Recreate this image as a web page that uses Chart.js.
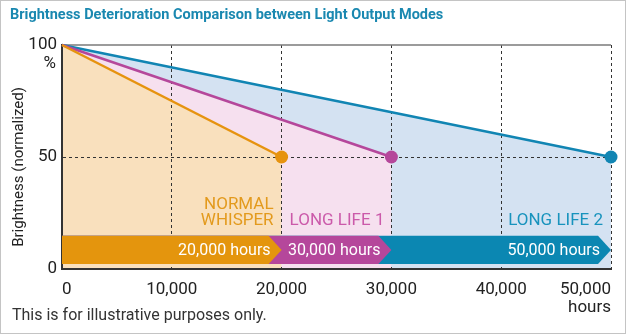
<!DOCTYPE html>
<html>
<head>
<meta charset="utf-8">
<script src="https://cdn.jsdelivr.net/npm/chart.js@4.4.1/dist/chart.umd.min.js"></script>
<style>
  html, body { margin: 0; padding: 0; background: #fff; }
  #wrap { width: 627px; height: 335px; }
</style>
</head>
<body>
<div id="wrap"><canvas id="lifeChart" width="627" height="335"></canvas></div>
<script>
// Brightness over operating hours for each light output mode
const modeNames = ['NORMAL\nWHISPER', 'LONG LIFE 1', 'LONG LIFE 2'];
const lifetimeHours = [20000, 30000, 50000];
const startBrightness = [100, 100, 100];
const endBrightness = [50, 50, 50];
const bandLabels = ['20,000 hours', '30,000 hours', '50,000 hours'];

const xTickValues = [0, 10000, 20000, 30000, 40000, 50000];
const xTickLabels = ['0', '10,000', '20,000', '30,000', '40,000', '50,000'];
const xUnit = 'hours';
const yTickValues = [0, 50, 100];
const yTickLabels = ['0', '50', '100'];
const yUnit = '%';

// band across the bottom of the plot (in brightness units)
const bandBottom = 2.2;
const bandTop = 14.8;

const lineColors = ['#e6930f', '#b5479b', '#1185b3'];
const fillColors = ['#f9e0bd', '#f6e0ef', '#d4e2f2'];
const bandColors = ['#e4950d', '#b5479b', '#0b87b2'];
const labelColors = ['#e39a1d', '#cb5aaa', '#1893bd'];

const FONT = 'Roboto, "Liberation Sans", Arial, sans-serif';

const datasets = modeNames.map((name, i) => ({
  label: name.replace('\n', ' '),
  data: [
    { x: 0, y: startBrightness[i] },
    { x: lifetimeHours[i], y: endBrightness[i] }
  ],
  borderColor: lineColors[i],
  backgroundColor: fillColors[i],
  borderWidth: 2.5,
  fill: 'origin',
  pointRadius: [0, 6.5],
  pointHoverRadius: [0, 6.5],
  pointBackgroundColor: lineColors[i],
  pointBorderWidth: 0,
  clip: false
}));

// frame, top rule, arrow bands and their captions
const overlay = {
  id: 'overlay',
  beforeDraw(chart) {
    const ctx = chart.ctx;
    ctx.save();
    ctx.strokeStyle = '#c4c4c4';
    ctx.lineWidth = 1;
    ctx.strokeRect(0.5, 0.5, 625, 333);
    ctx.restore();
  },
  beforeDatasetsDraw(chart) {
    const { ctx, chartArea, scales: { x, y } } = chart;
    ctx.save();
    ctx.strokeStyle = '#7a7a7a';
    ctx.lineWidth = 1.5;
    ctx.beginPath();
    ctx.moveTo(chartArea.left, y.getPixelForValue(100));
    ctx.lineTo(chartArea.right, y.getPixelForValue(100));
    ctx.stroke();

    const yb = y.getPixelForValue(bandBottom);
    const yt = y.getPixelForValue(bandTop);
    const ym = (yb + yt) / 2;
    const head = 13;
    for (let i = lifetimeHours.length - 1; i >= 0; i--) {
      const tip = x.getPixelForValue(lifetimeHours[i]);
      ctx.fillStyle = bandColors[i];
      ctx.beginPath();
      ctx.moveTo(chartArea.left, yt);
      ctx.lineTo(tip - head, yt);
      ctx.lineTo(tip, ym);
      ctx.lineTo(tip - head, yb);
      ctx.lineTo(chartArea.left, yb);
      ctx.closePath();
      ctx.fill();
    }

    ctx.font = '16px ' + FONT;
    ctx.fillStyle = '#ffffff';
    ctx.textAlign = 'right';
    ctx.textBaseline = 'middle';
    lifetimeHours.forEach((h, i) => {
      ctx.fillText(bandLabels[i], x.getPixelForValue(h) - 11, ym + 1);
    });

    // mode captions above the bands
    ctx.font = '17px ' + FONT;
    const capY = y.getPixelForValue(bandTop) - 15;
    const prev = [null, 20000, null];
    modeNames.forEach((name, i) => {
      const lines = name.split('\n');
      ctx.fillStyle = labelColors[i];
      let px;
      if (prev[i] !== null) {
        ctx.textAlign = 'left';
        px = x.getPixelForValue(prev[i]) + 8;
      } else {
        ctx.textAlign = 'right';
        px = x.getPixelForValue(lifetimeHours[i]) - 8;
      }
      lines.forEach((ln, k) => {
        ctx.fillText(ln, px, capY - (lines.length - 1 - k) * 16.5);
      });
    });
    ctx.restore();
  },
  afterDraw(chart) {
    const { ctx, chartArea, scales: { y } } = chart;
    ctx.save();
    ctx.fillStyle = '#222';
    ctx.font = '17px ' + FONT;
    ctx.textAlign = 'right';
    ctx.textBaseline = 'middle';
    ctx.fillText(yUnit, chartArea.left - 6, y.getPixelForValue(100) + 19);

    // rotated y axis title
    ctx.translate(19, (chartArea.top + chartArea.bottom) / 2 + 10);
    ctx.rotate(-Math.PI / 2);
    ctx.textAlign = 'center';
    ctx.font = '15px ' + FONT;
    ctx.fillText('Brightness (normalized)', 0, 0);
    ctx.restore();

    ctx.save();
    ctx.fillStyle = '#333';
    ctx.font = '16px ' + FONT;
    ctx.textBaseline = 'middle';
    ctx.fillText('This is for illustrative purposes only.', 12, 316);
    ctx.restore();
  }
};

new Chart(document.getElementById('lifeChart'), {
  type: 'line',
  data: { datasets },
  plugins: [overlay],
  options: {
    responsive: false,
    animation: false,
    events: [],
    layout: { padding: { left: 10, right: 16, top: 0, bottom: 0 } },
    plugins: {
      legend: { display: false },
      tooltip: { enabled: false },
      filler: { drawTime: 'beforeDraw' },
      title: {
        display: true,
        text: 'Brightness Deterioration Comparison between Light Output Modes',
        align: 'start',
        color: '#1a88b0',
        font: { family: FONT, size: 14.5, weight: 'bold' },
        padding: { top: 7, bottom: 20.6 }
      }
    },
    scales: {
      x: {
        type: 'linear',
        min: 0,
        max: 50000,
        afterBuildTicks: s => { s.ticks = xTickValues.map(v => ({ value: v })); },
        afterFit: s => { s.height = 66; },
        ticks: {
          align: 'inner',
          padding: 12,
          color: '#222',
          font: { family: FONT, size: 17, lineHeight: 1.05 },
          callback: (v) => {
            const i = xTickValues.indexOf(v);
            return i === xTickValues.length - 1 ? [xTickLabels[i], xUnit] : xTickLabels[i];
          }
        },
        grid: {
          drawTicks: false,
          lineWidth: 1,
          color: c => (c.tick && c.tick.value > 0 ? '#333' : 'rgba(0,0,0,0)')
        },
        border: { display: true, color: '#333', width: 2, dash: [3, 3] }
      },
      y: {
        type: 'linear',
        min: 0,
        max: 100,
        afterBuildTicks: s => { s.ticks = yTickValues.map(v => ({ value: v })); },
        afterFit: s => { s.width = 52; },
        ticks: {
          padding: 5,
          color: '#222',
          font: { family: FONT, size: 17 },
          callback: v => yTickLabels[yTickValues.indexOf(v)]
        },
        grid: {
          drawTicks: false,
          lineWidth: 1,
          color: c => (c.tick && c.tick.value === 50 ? '#333' : 'rgba(0,0,0,0)')
        },
        border: { display: true, color: '#333', width: 2, dash: [3, 3] }
      }
    }
  }
});
</script>
</body>
</html>
